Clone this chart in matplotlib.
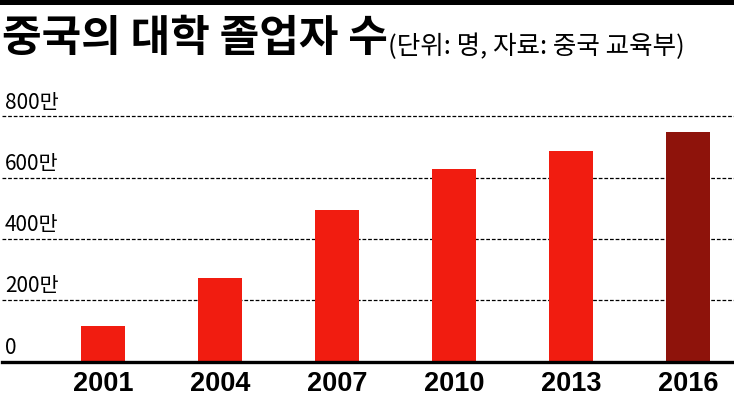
import matplotlib
matplotlib.use("Agg")
import matplotlib.pyplot as plt
from matplotlib.patches import Rectangle
from matplotlib.transforms import blended_transform_factory

years = ["2001", "2004", "2007", "2010", "2013", "2016"]
values = [115, 274, 495, 627, 688, 750]  # 만 명
tick_values = [0, 200, 400, 600, 800]
tick_labels = ["0", "200만", "400만", "600만", "800만"]
title = "중국의 대학 졸업자 수"
subtitle = "(단위: 명, 자료: 중국 교육부)"

red = "#F11C10"
dark_red = "#8E130B"
colors = [red] * (len(years) - 1) + [dark_red]

W, H = 734, 397
fig = plt.figure(figsize=(W / 100, H / 100), dpi=100)
fig.patch.set_facecolor("white")

ax = fig.add_axes([2 / W, (H - 361.5) / H, 732 / W, 260.5 / H])
x = list(range(len(years)))
ax.bar(x, values, width=0.376, color=colors, zorder=3)
ax.set_xlim(-0.863, 5.393)
ax.set_ylim(0, 850)

for v in tick_values[1:]:
    ax.axhline(v, color="black", lw=0.9, ls=(0, (3, 1.5)), zorder=1)
ax.axhline(0, color="black", lw=2.4, zorder=4, clip_on=False)

for sp in ax.spines.values():
    sp.set_visible(False)
ax.set_yticks([])
ax.set_xticks(x)
ax.set_xticklabels(years, family=["Liberation Sans", "DejaVu Sans"],
                   fontsize=19.5, fontweight="bold")
ax.tick_params(axis="x", length=0, pad=7)

trans = blended_transform_factory(ax.transAxes, ax.transData)
for v, lab in zip(tick_values, tick_labels):
    ax.text(0.004, v + 9, lab, transform=trans, ha="left", va="bottom",
            family=["Noto Sans CJK KR"],
            fontsize=15, fontweight="medium", color="black", zorder=5)

fig.add_artist(Rectangle((0, 1 - 5 / H), 1, 5 / H, transform=fig.transFigure,
                         color="black", lw=0))

fig.text(2 / W, 1 - 60 / H, title, family=["Noto Sans CJK KR"],
         fontsize=31, fontweight="black", ha="left", va="bottom")
fig.text(388 / W, 1 - 60 / H, subtitle, family=["Noto Sans CJK KR"],
         fontsize=18.4, fontweight="medium", ha="left", va="bottom")

fig.savefig("out.png", dpi=100, facecolor="white")
